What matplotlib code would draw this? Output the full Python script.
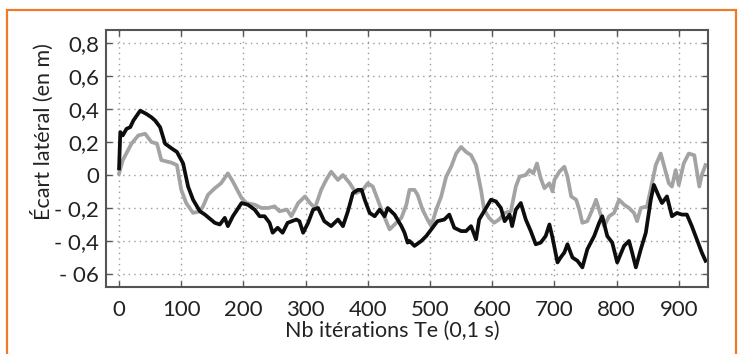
import numpy as np
import matplotlib
matplotlib.use('Agg')
import matplotlib.pyplot as plt
from matplotlib.patches import Rectangle

plt.rcParams['font.family'] = ['Lato', 'DejaVu Sans']

# courbe noire
noir_x = [0, 2, 6, 12, 18, 23, 34, 44, 52, 58, 66, 74, 85, 93, 103, 111, 119, 130, 138, 154,
          162, 170, 175, 183, 197, 207, 218, 226, 234, 242, 247, 255, 263, 271, 285, 290, 296, 304,
          312, 320, 330, 341, 352, 360, 368, 376, 384, 390, 395, 403, 411, 419, 427, 432, 443, 454,
          459, 464, 467, 475, 486, 494, 502, 512, 523, 531, 539, 550, 558, 566, 574, 579, 587, 598,
          606, 614, 620, 628, 632, 638, 646, 654, 662, 670, 678, 686, 692, 697, 705, 710, 716, 721,
          729, 737, 745, 753, 764, 772, 777, 785, 793, 801, 812, 820, 825, 831, 839, 847, 855, 860,
          868, 873, 881, 889, 897, 905, 913, 921, 929, 937, 943]
noir_y = [0.04, 0.26, 0.24, 0.28, 0.29, 0.33, 0.39, 0.37, 0.35, 0.33, 0.29, 0.19, 0.16, 0.14, 0.07,
          -0.07, -0.15, -0.22, -0.24, -0.29, -0.30, -0.26, -0.31, -0.25, -0.17, -0.18, -0.21, -0.25,
          -0.25, -0.29, -0.35, -0.32, -0.35, -0.29, -0.27, -0.28, -0.35, -0.29, -0.21, -0.20, -0.28,
          -0.31, -0.27, -0.31, -0.22, -0.11, -0.09, -0.09, -0.15, -0.23, -0.25, -0.21, -0.25, -0.20,
          -0.24, -0.31, -0.35, -0.41, -0.40, -0.43, -0.40, -0.37, -0.33, -0.28, -0.27, -0.24, -0.32,
          -0.34, -0.34, -0.31, -0.39, -0.27, -0.22, -0.15, -0.16, -0.20, -0.28, -0.24, -0.31, -0.21,
          -0.17, -0.27, -0.34, -0.42, -0.41, -0.37, -0.30, -0.38, -0.53, -0.50, -0.47, -0.42, -0.50,
          -0.52, -0.56, -0.45, -0.37, -0.29, -0.25, -0.37, -0.41, -0.53, -0.43, -0.40, -0.47, -0.56,
          -0.45, -0.35, -0.15, -0.06, -0.13, -0.17, -0.13, -0.25, -0.23, -0.24, -0.24, -0.31, -0.39,
          -0.47, -0.52]

# courbe grise
gris_x = [0, 6, 20, 31, 42, 52, 61, 68, 84, 93, 100, 108, 119, 130, 135, 143, 154, 164, 175, 183,
          197, 205, 218, 229, 240, 250, 258, 270, 277, 288, 299, 307, 315, 325, 333, 341, 352, 360,
          371, 381, 392, 400, 408, 416, 424, 435, 443, 454, 462, 467, 475, 480, 488, 496, 502, 510,
          518, 526, 534, 542, 550, 558, 566, 574, 582, 587, 595, 603, 611, 620, 630, 638, 644, 654,
          660, 666, 672, 678, 684, 692, 697, 700, 708, 716, 721, 727, 735, 740, 745, 753, 761, 767,
          775, 780, 788, 796, 804, 812, 820, 828, 833, 839, 849, 857, 863, 871, 876, 884, 889, 895,
          900, 908, 916, 925, 933, 937, 943]
gris_y = [0.01, 0.09, 0.19, 0.24, 0.25, 0.20, 0.19, 0.09, 0.075, 0.06, -0.09, -0.17, -0.23, -0.22,
          -0.19, -0.12, -0.08, -0.05, 0.01, -0.04, -0.14, -0.17, -0.18, -0.20, -0.20, -0.19, -0.22,
          -0.21, -0.25, -0.17, -0.13, -0.17, -0.20, -0.09, -0.03, 0.02, -0.03, 0.00, -0.05, -0.11,
          -0.09, -0.05, -0.07, -0.15, -0.23, -0.33, -0.30, -0.26, -0.18, -0.09, -0.09, -0.12, -0.21,
          -0.27, -0.31, -0.21, -0.13, -0.01, 0.05, 0.13, 0.17, 0.14, 0.12, 0.06, -0.09, -0.21, -0.26,
          -0.29, -0.27, -0.23, -0.22, -0.07, -0.01, 0.00, 0.03, 0.01, 0.07, -0.02, -0.08, -0.05,
          -0.10, -0.03, 0.02, 0.05, -0.01, -0.13, -0.15, -0.21, -0.29, -0.28, -0.21, -0.15, -0.25,
          -0.31, -0.25, -0.23, -0.15, -0.18, -0.20, -0.23, -0.28, -0.20, -0.19, -0.05, 0.06, 0.13,
          0.06, -0.05, -0.07, 0.03, -0.06, 0.07, 0.13, 0.12, -0.07, 0.00, 0.06]

x_ticks = [0, 100, 200, 300, 400, 500, 600, 700, 800, 900]
y_ticks = [0.8, 0.6, 0.4, 0.2, 0, -0.2, -0.4, -0.6]
y_etiq = ['0,8', '0,6', '0,4', '0,2', '0', '- 0,2', '- 0,4', '- 06']

fig = plt.figure(figsize=(7.41, 3.54), dpi=100, facecolor='w')
ax = fig.add_axes([106/741, 1 - 287/354, 602/741, 257/354])

ax.plot(gris_x, gris_y, color='#a3a3a3', lw=2.7)
ax.plot(noir_x, noir_y, color='#0d0d0d', lw=2.7)

ax.set_xlim(-21, 947)
ax.set_ylim(-0.679, 0.879)
ax.set_xticks(x_ticks)
ax.set_xticklabels([str(v) for v in x_ticks])
ax.set_yticks(y_ticks)
ax.set_yticklabels(y_etiq)
ax.grid(True, linestyle=(0, (1, 3)), color='#9a9a9a', lw=1)
ax.tick_params(direction='in', length=4, width=1, color='#555555', top=True, right=True,
               labelsize=16, labelcolor='#222222', pad=5)
ax.tick_params(axis='x', pad=9)
for s in ax.spines.values():
    s.set_color('#555555')
    s.set_linewidth(1.5)

# titres des axes
fig.text(392/741, 17/354, 'Nb itérations Te (0,1 s)', ha='center', va='baseline',
         fontsize=15.5, color='#222222')
fig.text(42/741, 1 - 132/354, 'Écart latéral (en m)', rotation=90, ha='center', va='center',
         fontsize=15.5, color='#222222')

# cadre orange
fig.patches.append(Rectangle((7/741, -0.05), 729/741, 1.05 - 10/354, transform=fig.transFigure,
                             fill=False, edgecolor='#f07a2c', lw=1.6, clip_on=False))

fig.savefig('out.png', dpi=100)
